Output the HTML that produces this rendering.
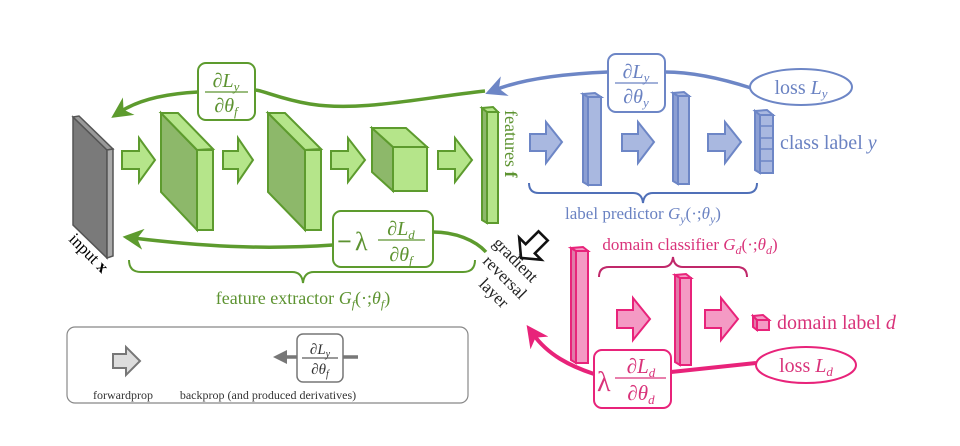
<!DOCTYPE html>
<html><head><meta charset="utf-8"><style>
html,body{margin:0;padding:0;background:#fff;}
svg{display:block;}
text{font-family:"Liberation Serif",serif;}
.i{font-style:italic;}
</style></head><body>
<svg width="960" height="446" viewBox="0 0 960 446" xmlns="http://www.w3.org/2000/svg">
<defs>
<marker id="ag" viewBox="0 0 10 10" refX="5" refY="5" markerWidth="6" markerHeight="6" orient="auto-start-reverse"><path d="M0,0 L10,5 L0,10 L3,5 z" fill="#5d9b2e"/></marker>
<marker id="ab" viewBox="0 0 10 10" refX="5" refY="5" markerWidth="6" markerHeight="6" orient="auto-start-reverse"><path d="M0,0 L10,5 L0,10 L3,5 z" fill="#6d86c6"/></marker>
<marker id="ap" viewBox="0 0 10 10" refX="5" refY="5" markerWidth="5.5" markerHeight="5.5" orient="auto-start-reverse"><path d="M0,0 L10,5 L0,10 L3,5 z" fill="#e8237a"/></marker>
<marker id="ax" viewBox="0 0 10 10" refX="5" refY="5" markerWidth="4" markerHeight="4" orient="auto-start-reverse"><path d="M0,0 L10,5 L0,10 z" fill="#777"/></marker>
</defs>

<!-- input slab -->
<polygon points="73,117 107,150 107,258 73,225" fill="#7a7a7a" stroke="#555" stroke-width="1.5"/>
<polygon points="73,117 79,116 113,149 107,150" fill="#999" stroke="#555" stroke-width="1.5"/>
<polygon points="107,150 113,149 113,256 107,258" fill="#aaa" stroke="#555" stroke-width="1.5"/>
<text x="0" y="0" font-size="17" transform="translate(68,240) rotate(45)">input <tspan font-weight="bold">x</tspan></text>

<!-- green arrows -->
<g fill="#b5e58a" stroke="#5d9b2e" stroke-width="2" stroke-linejoin="miter">
<polygon points="122,151 139,151 139,138 155,160 139,182 139,169 122,169"/>
<polygon points="223,151 238,151 238,138 253,160 238,182 238,169 223,169"/>
<polygon points="331,151 348,151 348,138 365,160 348,182 348,169 331,169"/>
<polygon points="438,151 455,151 455,138 472,160 455,182 455,169 438,169"/>
</g>
<!-- slabs -->
<g stroke="#5d9b2e" stroke-width="2">
<polygon points="161,113 197,150 197,230 161,192" fill="#8db86a"/>
<polygon points="161,113 178,113 213,149 197,150" fill="#b5e58a"/>
<rect x="197" y="150" width="16" height="80" fill="#b5e58a"/>
<polygon points="268,113 305,150 305,230 268,192" fill="#8db86a"/>
<polygon points="268,113 285,113 321,149 305,150" fill="#b5e58a"/>
<rect x="305" y="150" width="16" height="80" fill="#b5e58a"/>
<polygon points="372,128 393,147 393,191 372,172" fill="#8db86a"/>
<polygon points="372,128 406,128 427,147 393,147" fill="#b5e58a"/>
<rect x="393" y="147" width="34" height="44" fill="#b5e58a"/>
<polygon points="482,108 487,112 487,223 482,220" fill="#8db86a"/>
<polygon points="482,108 493,107 498,112 487,112" fill="#b5e58a"/>
<rect x="487" y="112" width="11" height="111" fill="#b5e58a"/>
</g>
<text font-size="18" fill="#5d9331" transform="translate(505,110) rotate(90)">features <tspan font-weight="bold">f</tspan></text>

<!-- top green backprop -->
<path d="M485,91 C420,98 360,112 310,104 C280,99 262,90 255,90 M198,92 C160,94 135,102 120,112" fill="none" stroke="#5d9b2e" stroke-width="3.5" marker-end="url(#ag)"/>
<rect x="198" y="63" width="57" height="57" rx="8" fill="#fff" stroke="#5d9b2e" stroke-width="2"/>
<text x="226" y="87" font-size="20" fill="#5d9331" text-anchor="middle">∂<tspan class="i">L</tspan><tspan class="i" font-size="13" dy="4">y</tspan></text>
<line x1="205" y1="92" x2="248" y2="92" stroke="#5d9331" stroke-width="1.2"/>
<text x="226" y="112" font-size="20" fill="#5d9331" text-anchor="middle">∂<tspan class="i">θ</tspan><tspan class="i" font-size="13" dy="4">f</tspan></text>

<!-- bottom green backprop -->
<path d="M333,245 C260,250 200,246 133,238" fill="none" stroke="#5d9b2e" stroke-width="3.5" marker-end="url(#ag)"/>
<path d="M433,232 C455,232 475,240 486,252" fill="none" stroke="#5d9b2e" stroke-width="3.5"/>
<rect x="333" y="211" width="100" height="56" rx="8" fill="#fff" stroke="#5d9b2e" stroke-width="2"/>
<text x="337" y="250" font-size="26" fill="#5d9331" font-weight="bold">−</text><text x="355" y="250" font-size="26" fill="#5d9331">λ</text>
<text x="401" y="235" font-size="20" fill="#5d9331" text-anchor="middle">∂<tspan class="i">L</tspan><tspan class="i" font-size="13" dy="4">d</tspan></text>
<line x1="378" y1="240" x2="425" y2="240" stroke="#5d9331" stroke-width="1.2"/>
<text x="401" y="261" font-size="20" fill="#5d9331" text-anchor="middle">∂<tspan class="i">θ</tspan><tspan class="i" font-size="13" dy="4">f</tspan></text>
<!-- green brace -->
<path d="M129,260 Q129,272 141,272 L292,272 Q302,272 303,283 Q304,272 314,272 L463,272 Q475,272 475,260" fill="none" stroke="#5d9b2e" stroke-width="2"/>
<text x="303" y="304" font-size="18" fill="#5d9331" text-anchor="middle">feature extractor <tspan class="i">G</tspan><tspan class="i" font-size="12" dy="4">f</tspan><tspan dy="-4">(·;</tspan><tspan class="i">θ</tspan><tspan class="i" font-size="12" dy="4">f</tspan><tspan dy="-4">)</tspan></text>

<!-- blue -->
<path d="M751,88 C720,78 690,72 665,72 M608,72 C560,74 520,80 495,90" fill="none" stroke="#6d86c6" stroke-width="3.5" marker-end="url(#ab)"/>
<rect x="608" y="54" width="57" height="58" rx="8" fill="#fff" stroke="#6d86c6" stroke-width="2"/>
<text x="636" y="78" font-size="20" fill="#6a82c2" text-anchor="middle">∂<tspan class="i">L</tspan><tspan class="i" font-size="13" dy="4">y</tspan></text>
<line x1="615" y1="83" x2="658" y2="83" stroke="#6a82c2" stroke-width="1.2"/>
<text x="636" y="103" font-size="20" fill="#6a82c2" text-anchor="middle">∂<tspan class="i">θ</tspan><tspan class="i" font-size="13" dy="4">y</tspan></text>
<ellipse cx="801" cy="87" rx="51" ry="18" fill="#fff" stroke="#6d86c6" stroke-width="2"/>
<text x="801" y="94" font-size="20" fill="#6a82c2" text-anchor="middle">loss <tspan class="i">L</tspan><tspan class="i" font-size="13" dy="4">y</tspan></text>
<g fill="#a9b8e0" stroke="#6d86c6" stroke-width="2">
<polygon points="530,134 546,134 546,122 562,142 546,163 546,151 530,151"/>
<polygon points="622,134 638,134 638,122 654,142 638,163 638,151 622,151"/>
<polygon points="708,134 725,134 725,122 741,142 725,163 725,151 708,151"/>
<polygon points="583,94 588,97 588,185 583,182" fill="#8c9fd3"/>
<polygon points="583,94 595,93 601,97 588,97"/>
<rect x="588" y="97" width="13" height="88"/>
<polygon points="673,93 678,96 678,184 673,181" fill="#8c9fd3"/>
<polygon points="673,93 684,92 689,96 678,96"/>
<rect x="678" y="96" width="11" height="88"/>
<polygon points="755,111 760,115 760,173 755,170" fill="#8c9fd3"/>
<polygon points="755,111 767,110 773,115 760,115"/>
<rect x="760" y="115" width="13" height="58"/>
</g>
<g stroke="#6d86c6" stroke-width="1.5"><line x1="760" y1="126" x2="773" y2="126"/><line x1="760" y1="138" x2="773" y2="138"/><line x1="760" y1="149" x2="773" y2="149"/><line x1="760" y1="161" x2="773" y2="161"/></g>
<text x="780" y="149" font-size="20" fill="#6a82c2">class label <tspan class="i">y</tspan></text>
<path d="M529,183 Q529,193 539,193 L633,193 Q642,193 643,203 Q644,193 653,193 L747,193 Q757,193 757,183" fill="none" stroke="#5070b8" stroke-width="2"/>
<text x="643" y="219" font-size="17" fill="#6a82c2" text-anchor="middle">label predictor <tspan class="i">G</tspan><tspan class="i" font-size="12" dy="4">y</tspan><tspan dy="-4">(·;</tspan><tspan class="i">θ</tspan><tspan class="i" font-size="12" dy="4">y</tspan><tspan dy="-4">)</tspan></text>

<!-- gradient reversal -->
<polygon points="-11,-5 3,-5 3,-12 13,0 3,12 3,5 -11,5" fill="#fff" stroke="#111" stroke-width="2" transform="translate(533,246) rotate(135) scale(1.3)"/>
<text font-size="17" fill="#222" transform="translate(492,244) rotate(45)">gradient</text>
<text font-size="17" fill="#222" transform="translate(482,262) rotate(45)">reversal</text>
<text font-size="17" fill="#222" transform="translate(478,285) rotate(45)">layer</text>

<!-- pink -->
<text x="690" y="250" font-size="17" fill="#d9337a" text-anchor="middle">domain classifier <tspan class="i">G</tspan><tspan class="i" font-size="12" dy="4">d</tspan><tspan dy="-4">(·;</tspan><tspan class="i">θ</tspan><tspan class="i" font-size="12" dy="4">d</tspan><tspan dy="-4">)</tspan></text>
<path d="M599,277 Q599,267 609,267 L663,267 Q672,267 673,257 Q674,267 683,267 L737,267 Q747,267 747,277" fill="none" stroke="#c0286a" stroke-width="2"/>
<g fill="#f49ac4" stroke="#e8237a" stroke-width="2">
<polygon points="571,248 576,251 576,363 571,360" fill="#e07aa8"/>
<polygon points="571,248 583,247 588,251 576,251"/>
<rect x="576" y="251" width="12" height="112"/>
<polygon points="675,275 680,278 680,365 675,362" fill="#e07aa8"/>
<polygon points="675,275 686,274 691,278 680,278"/>
<rect x="680" y="278" width="11" height="87"/>
<polygon points="617,310 633,310 633,298 650,319 633,340 633,328 617,328"/>
<polygon points="705,310 721,310 721,298 738,319 721,340 721,328 705,328"/>
<polygon points="753,316 757,320 757,330 753,327" fill="#e07aa8"/>
<polygon points="753,316 763,315 769,320 757,320"/>
<rect x="757" y="320" width="12" height="10"/>
</g>
<text x="777" y="329" font-size="20" fill="#d9337a">domain label <tspan class="i">d</tspan></text>
<path d="M756,363 C720,367 690,370 671,372 M594,374 C570,366 548,355 533,334" fill="none" stroke="#e8237a" stroke-width="4" marker-end="url(#ap)"/>
<ellipse cx="806" cy="365" rx="50" ry="18" fill="#fff" stroke="#e8237a" stroke-width="2"/>
<text x="806" y="372" font-size="20" fill="#d9337a" text-anchor="middle">loss <tspan class="i">L</tspan><tspan class="i" font-size="13" dy="4">d</tspan></text>
<rect x="594" y="350" width="77" height="58" rx="8" fill="#fff" stroke="#e8237a" stroke-width="2"/>
<text x="597" y="391" font-size="28" fill="#d9337a">λ</text>
<text x="641" y="373" font-size="21" fill="#d9337a" text-anchor="middle">∂<tspan class="i">L</tspan><tspan class="i" font-size="13" dy="4">d</tspan></text>
<line x1="615" y1="378" x2="666" y2="378" stroke="#d9337a" stroke-width="1.2"/>
<text x="641" y="400" font-size="21" fill="#d9337a" text-anchor="middle">∂<tspan class="i">θ</tspan><tspan class="i" font-size="13" dy="4">d</tspan></text>

<!-- legend -->
<rect x="67" y="327" width="401" height="76" rx="8" fill="#fff" stroke="#888" stroke-width="1.2"/>
<polygon points="113,354 126,354 126,347 140,361 126,375 126,368 113,368" fill="#ddd" stroke="#777" stroke-width="2"/>
<text x="123" y="399" font-size="12" fill="#333" text-anchor="middle">forwardprop</text>
<path d="M358,357 L280,357" stroke="#777" stroke-width="3.5" marker-end="url(#ax)"/>
<rect x="297" y="334" width="46" height="48" rx="6" fill="#fff" stroke="#777" stroke-width="1.5"/>
<text x="320" y="354" font-size="15" fill="#333" text-anchor="middle">∂<tspan class="i">L</tspan><tspan class="i" font-size="10" dy="3">y</tspan></text>
<line x1="302" y1="358" x2="338" y2="358" stroke="#333" stroke-width="1"/>
<text x="320" y="374" font-size="15" fill="#333" text-anchor="middle">∂<tspan class="i">θ</tspan><tspan class="i" font-size="10" dy="3">f</tspan></text>
<text x="268" y="399" font-size="12" fill="#333" text-anchor="middle">backprop (and produced derivatives)</text>
</svg>
</body></html>
